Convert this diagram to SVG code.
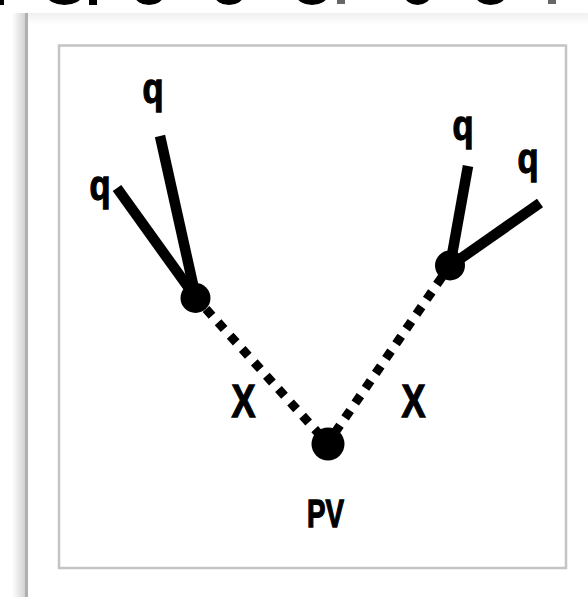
<svg xmlns="http://www.w3.org/2000/svg" width="588" height="597" viewBox="0 0 588 597">
<style>
.lbl{font-family:"Liberation Sans","DejaVu Sans",sans-serif;font-weight:bold;fill:#000;stroke:#000;stroke-width:1.3;text-anchor:middle}
.solid{stroke:#000;stroke-width:10.5;stroke-linecap:butt;fill:none}
.dot{stroke:#000;stroke-width:9;stroke-dasharray:9 9;fill:none}
.frag{stroke:#000;stroke-width:6;fill:none}
</style>
<defs>
<linearGradient id="lsh" x1="0" y1="0" x2="1" y2="0">
<stop offset="0" stop-color="#fff"/><stop offset="1" stop-color="#cfcfcf"/>
</linearGradient>
<linearGradient id="tsh" x1="0" y1="0" x2="0" y2="1">
<stop offset="0" stop-color="#f0f0f0"/><stop offset="1" stop-color="#fff"/>
</linearGradient>
</defs>
<rect width="588" height="597" fill="#fff"/>
<g id="top-fragments">
<rect x="0" y="0" width="4" height="5" fill="#000"/>
<ellipse class="frag" cx="64.5" cy="-6" rx="15" ry="8"/>
<rect x="89" y="0" width="8" height="5" fill="#000"/>
<ellipse class="frag" cx="149" cy="-6" rx="12" ry="8"/>
<ellipse class="frag" cx="229" cy="-6" rx="12" ry="8"/>
<ellipse class="frag" cx="312" cy="-6" rx="13" ry="8"/>
<rect x="337" y="0" width="8" height="4" fill="#666"/>
<ellipse class="frag" cx="417.5" cy="-6" rx="10.5" ry="8"/>
<ellipse class="frag" cx="490.5" cy="-6" rx="12.5" ry="8"/>
<rect x="548" y="0" width="8" height="4" fill="#666"/>
</g>
<g id="card">
<rect x="12" y="13" width="14" height="584" fill="url(#lsh)"/>
<rect x="27" y="13" width="561" height="12" fill="url(#tsh)"/>
<line x1="26.5" y1="13" x2="26.5" y2="597" stroke="#b0b0b0" stroke-width="3"/>
<rect x="59" y="45.5" width="507" height="522.5" fill="none" stroke="#c4c4c4" stroke-width="2.5"/>
</g>
<g id="connectors">
<line class="solid" x1="196" y1="298" x2="160" y2="136"/>
<line class="solid" x1="196" y1="298" x2="117" y2="188"/>
<line class="solid" x1="450" y1="266" x2="468" y2="166"/>
<line class="solid" x1="450" y1="266" x2="540" y2="203"/>
<line class="dot" x1="206" y1="309" x2="320" y2="435"/>
<line class="dot" x1="442" y1="277" x2="334" y2="434"/>
</g>
<g id="node-left"><circle cx="195.5" cy="298" r="15" fill="#000"/></g>
<g id="node-right"><circle cx="450" cy="265.5" r="15" fill="#000"/></g>
<g id="node-pv"><circle cx="328" cy="444" r="16.5" fill="#000"/></g>
<g id="labels">
<text class="lbl" x="153" y="103" font-size="42" textLength="21" lengthAdjust="spacingAndGlyphs">q</text>
<text class="lbl" x="100" y="200" font-size="42" textLength="21" lengthAdjust="spacingAndGlyphs">q</text>
<text class="lbl" x="463" y="140" font-size="42" textLength="21" lengthAdjust="spacingAndGlyphs">q</text>
<text class="lbl" x="528" y="173" font-size="42" textLength="21" lengthAdjust="spacingAndGlyphs">q</text>
<text class="lbl" x="243.5" y="417" font-size="47" textLength="24" lengthAdjust="spacingAndGlyphs">X</text>
<text class="lbl" x="413.5" y="417" font-size="47" textLength="24" lengthAdjust="spacingAndGlyphs">X</text>
<text class="lbl" x="325.5" y="527" font-size="38" textLength="37" lengthAdjust="spacingAndGlyphs">PV</text>
</g>
</svg>
